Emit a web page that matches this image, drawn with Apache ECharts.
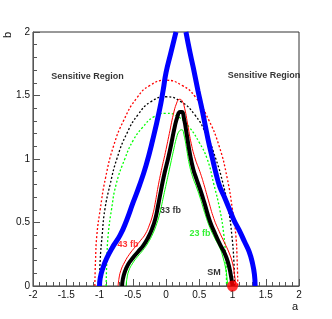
<!DOCTYPE html>
<html><head><meta charset="utf-8">
<script src="https://cdn.jsdelivr.net/npm/echarts@6/dist/echarts.min.js"></script>
<style>html,body{margin:0;padding:0;background:#fff}#c{width:332px;height:319px}</style>
</head><body><div id="c"></div>
<script>
var xTicks = ["-2","-1.5","-1","-0.5","0","0.5","1","1.5","2"];
var yTicks = ["0","0.5","1","1.5","2"];

var blueLeft = [[-1.0,0],[-0.99,0.06],[-0.95,0.14],[-0.89,0.22],[-0.81,0.30],[-0.69,0.40],[-0.59,0.52],[-0.5,0.65],[-0.4,0.79],[-0.3,0.95],[-0.2,1.15],[-0.1,1.38],[-0.04,1.55],[0.0,1.68],[0.07,1.83],[0.15,2.0]];
var blueRight = [[0.30,2.0],[0.36,1.84],[0.41,1.72],[0.48,1.54],[0.55,1.37],[0.63,1.16],[0.70,1.0],[0.76,0.87],[0.81,0.78],[0.87,0.71],[0.95,0.61],[1.02,0.52],[1.1,0.44],[1.18,0.35],[1.25,0.27],[1.3,0.18],[1.33,0.09],[1.34,0]];
var black33 = [[-0.66,0],[-0.65,0.05],[-0.62,0.11],[-0.57,0.17],[-0.5,0.22],[-0.42,0.27],[-0.34,0.32],[-0.27,0.38],[-0.21,0.45],[-0.16,0.53],[-0.12,0.63],[-0.08,0.74],[-0.03,0.87],[0.03,1.0],[0.08,1.12],[0.13,1.25],[0.17,1.33],[0.21,1.37],[0.24,1.37],[0.27,1.32],[0.31,1.20],[0.36,1.04],[0.41,0.92],[0.46,0.84],[0.52,0.75],[0.58,0.65],[0.66,0.51],[0.74,0.41],[0.81,0.33],[0.88,0.26],[0.93,0.19],[0.97,0.10],[1.0,0]];
var red43 = [[-0.72,0],[-0.71,0.05],[-0.68,0.12],[-0.62,0.19],[-0.55,0.25],[-0.46,0.31],[-0.38,0.36],[-0.31,0.41],[-0.25,0.48],[-0.2,0.56],[-0.16,0.66],[-0.12,0.78],[-0.07,0.91],[-0.01,1.05],[0.05,1.2],[0.11,1.35],[0.16,1.44],[0.2,1.47],[0.24,1.46],[0.28,1.40],[0.33,1.26],[0.38,1.12],[0.44,1.0],[0.51,0.90],[0.57,0.80],[0.64,0.67],[0.72,0.53],[0.80,0.43],[0.88,0.34],[0.95,0.26],[1.0,0.18],[1.03,0.09],[1.05,0]];
var green23 = [[-0.60,0],[-0.59,0.05],[-0.56,0.12],[-0.5,0.18],[-0.43,0.23],[-0.35,0.28],[-0.27,0.34],[-0.20,0.41],[-0.14,0.49],[-0.09,0.58],[-0.04,0.70],[0.01,0.82],[0.06,0.94],[0.11,1.06],[0.16,1.17],[0.2,1.22],[0.24,1.23],[0.27,1.19],[0.31,1.08],[0.35,0.96],[0.40,0.86],[0.45,0.79],[0.51,0.70],[0.58,0.58],[0.66,0.46],[0.74,0.37],[0.81,0.30],[0.86,0.22],[0.90,0.13],[0.92,0.05],[0.93,0]];
var redDot = [[-1.07,0],[-1.06,0.2],[-1.04,0.4],[-0.99,0.6],[-0.91,0.85],[-0.79,1.1],[-0.64,1.3],[-0.44,1.48],[-0.24,1.58],[0,1.62],[0.24,1.58],[0.44,1.49],[0.64,1.31],[0.8,1.1],[0.92,0.85],[1.0,0.6],[1.05,0.4],[1.07,0.2],[1.08,0]];
var blackDot = [[-1.0,0],[-0.99,0.2],[-0.96,0.4],[-0.92,0.6],[-0.84,0.8],[-0.74,1.0],[-0.59,1.2],[-0.42,1.35],[-0.23,1.45],[0,1.49],[0.23,1.45],[0.43,1.35],[0.6,1.2],[0.75,1.0],[0.86,0.8],[0.94,0.6],[0.99,0.4],[1.02,0.2],[1.03,0]];
var greenDot = [[-0.9,0],[-0.89,0.2],[-0.87,0.4],[-0.82,0.6],[-0.75,0.8],[-0.62,1.0],[-0.49,1.15],[-0.35,1.25],[-0.19,1.33],[0,1.36],[0.19,1.33],[0.35,1.25],[0.5,1.13],[0.62,1.0],[0.72,0.8],[0.81,0.6],[0.87,0.4],[0.9,0.2],[0.91,0]];
var smPoint = [[1.0,0]];
var labelTexts = ["Sensitive Region","Sensitive Region","33 fb","43 fb","23 fb","SM"];
var labelPos = [[-1.18,1.646],[1.474,1.654],[0.068,0.598],[-0.571,0.323],[0.511,0.417],[0.722,0.110]];
var labelColors = ["#000","#000","#000","#ff0000","#00ee00","#000"];

var FONT = "Liberation Sans, Arial, Helvetica, sans-serif";
function line(data, color, width, dashed, z) {
  return {type:'line', data:data, smooth:true, showSymbol:false, symbol:'none', z:z, silent:true, clip:false,
    lineStyle:{color:color, width:width, type: dashed ? [2,2] : 'solid'}};
}
var labelData = labelTexts.map(function(t,i){
  return {value:[labelPos[i][0],labelPos[i][1]], name:t,
    label:{show:true, position:'inside', formatter:t, color:labelColors[i], fontSize:9, fontWeight:'bold', fontFamily:FONT}};
});
var chart = echarts.init(document.getElementById('c'), null, {renderer:'canvas'});
chart.setOption({
  animation:false,
  backgroundColor:'#fff',
  grid:{left:33, top:32, width:266, height:254, show:true, borderColor:'#333', borderWidth:1, backgroundColor:'transparent'},
  xAxis:{type:'value', min:-2, max:2, interval:0.5,
    axisLine:{show:true, onZero:false, lineStyle:{color:'#555', width:1}},
    axisTick:{show:true, inside:true, length:7, lineStyle:{color:'#555'}},
    minorTick:{show:true, splitNumber:5, length:4, lineStyle:{color:'#555'}},
    splitLine:{show:false},
    axisLabel:{margin:4, fontSize:10, color:'#111', fontFamily:FONT,
      formatter:function(v){var i=Math.round((v+2)/0.5); return xTicks[i]!==undefined?xTicks[i]:'';}}
  },
  yAxis:{type:'value', min:0, max:2, interval:0.5,
    axisLine:{show:true, onZero:false, lineStyle:{color:'#555', width:1}},
    axisTick:{show:true, inside:true, length:7, lineStyle:{color:'#555'}},
    minorTick:{show:true, splitNumber:5, length:4, lineStyle:{color:'#555'}},
    splitLine:{show:false},
    axisLabel:{margin:3, fontSize:10, color:'#111', fontFamily:FONT,
      formatter:function(v){var i=Math.round(v/0.5); return yTicks[i]!==undefined?yTicks[i]:'';}}
  },
  series:[
    line(redDot,'#ff0000',1.3,true,2),
    line(blackDot,'#000000',1.3,true,2),
    line(greenDot,'#00ff00',1.3,true,2),
    line(red43,'#ff0000',1,false,3),
    line(green23,'#00ff00',1,false,3),
    line(black33,'#000000',4,false,4),
    line(blueLeft,'#0000ff',5,false,5),
    line(blueRight,'#0000ff',5,false,5),
    {type:'scatter', data:smPoint, symbol:'circle', symbolSize:11, itemStyle:{color:'#ff0000'}, z:10, clip:false, silent:true},
    {type:'scatter', data:labelData, symbolSize:0, z:11, silent:true}
  ],
  graphic:[
    {type:'text', left:292, top:301, style:{text:'a', fontSize:11, fill:'#111', fontFamily:FONT}},
    {type:'text', x:2, y:38, rotation:Math.PI/2, style:{text:'b', fontSize:11, fill:'#111', fontFamily:FONT}}
  ]
});
</script></body></html>
